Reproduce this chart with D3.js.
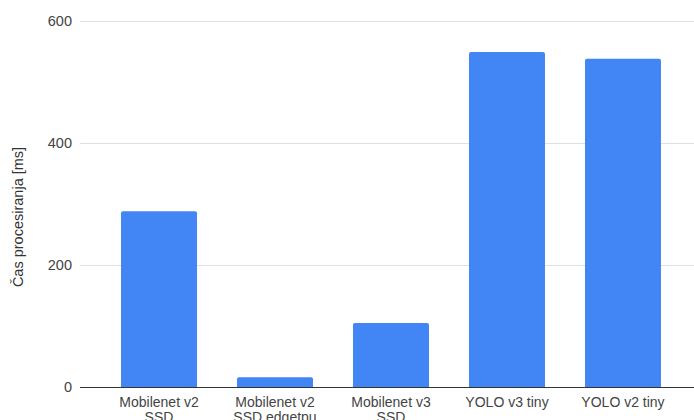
<!DOCTYPE html>
<html>
<head>
<meta charset="utf-8">
<script src="https://cdn.jsdelivr.net/npm/d3@7"></script>
<style>
  html, body { margin: 0; padding: 0; background: #fff; }
  svg { display: block; font-family: "Liberation Sans", Arial, sans-serif; }
</style>
</head>
<body>
<svg id="chart" width="694" height="420"></svg>
<script>
// Processing time per detection model
const models = [
  ["Mobilenet v2", "SSD"],
  ["Mobilenet v2", "SSD edgetpu"],
  ["Mobilenet v3", "SSD"],
  ["YOLO v3 tiny"],
  ["YOLO v2 tiny"]
];
const timesMs = [288, 16, 105, 549, 538];
const yTicks = [0, 200, 400, 600];
const yTitle = "Čas procesiranja [ms]";

const W = 694, H = 420;
const plot = { left: 80, right: 694, top: 21, bottom: 387 };

const svg = d3.select("#chart");
const keys = models.map(m => m.join(" "));

const x = d3.scaleBand()
  .domain(keys)
  .range([81, 701])
  .paddingInner(0.345)
  .paddingOuter(0.345);

const y = d3.scaleLinear()
  .domain([0, 600])
  .range([plot.bottom, plot.top]);

// Horizontal gridlines
const yAxis = d3.axisLeft(y)
  .tickValues(yTicks)
  .tickSize(-(plot.right - plot.left))
  .tickPadding(8)
  .tickFormat(d3.format("d"));

const gy = svg.append("g")
  .attr("transform", `translate(${plot.left},0)`)
  .call(yAxis);
gy.select(".domain").remove();
gy.selectAll(".tick line")
  .attr("stroke", "#e0e0e0")
  .attr("stroke-width", 1)
  .attr("shape-rendering", "crispEdges");
gy.selectAll(".tick text")
  .attr("fill", "#444")
  .attr("font-size", 14.5)
  .attr("x", -8);

// Bars with slightly rounded top corners
const r = 2;
function barPath(x0, w, yTop, yBase) {
  return `M${x0},${yBase}V${yTop + r}Q${x0},${yTop} ${x0 + r},${yTop}` +
         `H${x0 + w - r}Q${x0 + w},${yTop} ${x0 + w},${yTop + r}V${yBase}Z`;
}

svg.append("g")
  .selectAll("path")
  .data(timesMs)
  .join("path")
  .attr("d", (d, i) => barPath(x(keys[i]), x.bandwidth(), y(d), y(0)))
  .attr("fill", "#4285f4");

// Baseline
svg.append("line")
  .attr("x1", plot.left).attr("x2", plot.right)
  .attr("y1", y(0) + 0.5).attr("y2", y(0) + 0.5)
  .attr("stroke", "#333")
  .attr("stroke-width", 1);

// Category labels (second lines run past the bottom edge)
const xl = svg.append("g")
  .selectAll("text")
  .data(models)
  .join("text")
  .attr("text-anchor", "middle")
  .attr("fill", "#444")
  .attr("font-size", 14)
  .attr("transform", (d, i) => `translate(${x(keys[i]) + x.bandwidth() / 2},${y(0) + 19.5})`);
xl.selectAll("tspan")
  .data(d => d)
  .join("tspan")
  .attr("x", 0)
  .attr("dy", (d, i) => i === 0 ? 0 : 15)
  .text(d => d);

// Axis title
svg.append("text")
  .attr("transform", `translate(23,217) rotate(-90)`)
  .attr("text-anchor", "middle")
  .attr("fill", "#333")
  .attr("font-size", 14.5)
  .text(yTitle);
</script>
</body>
</html>
